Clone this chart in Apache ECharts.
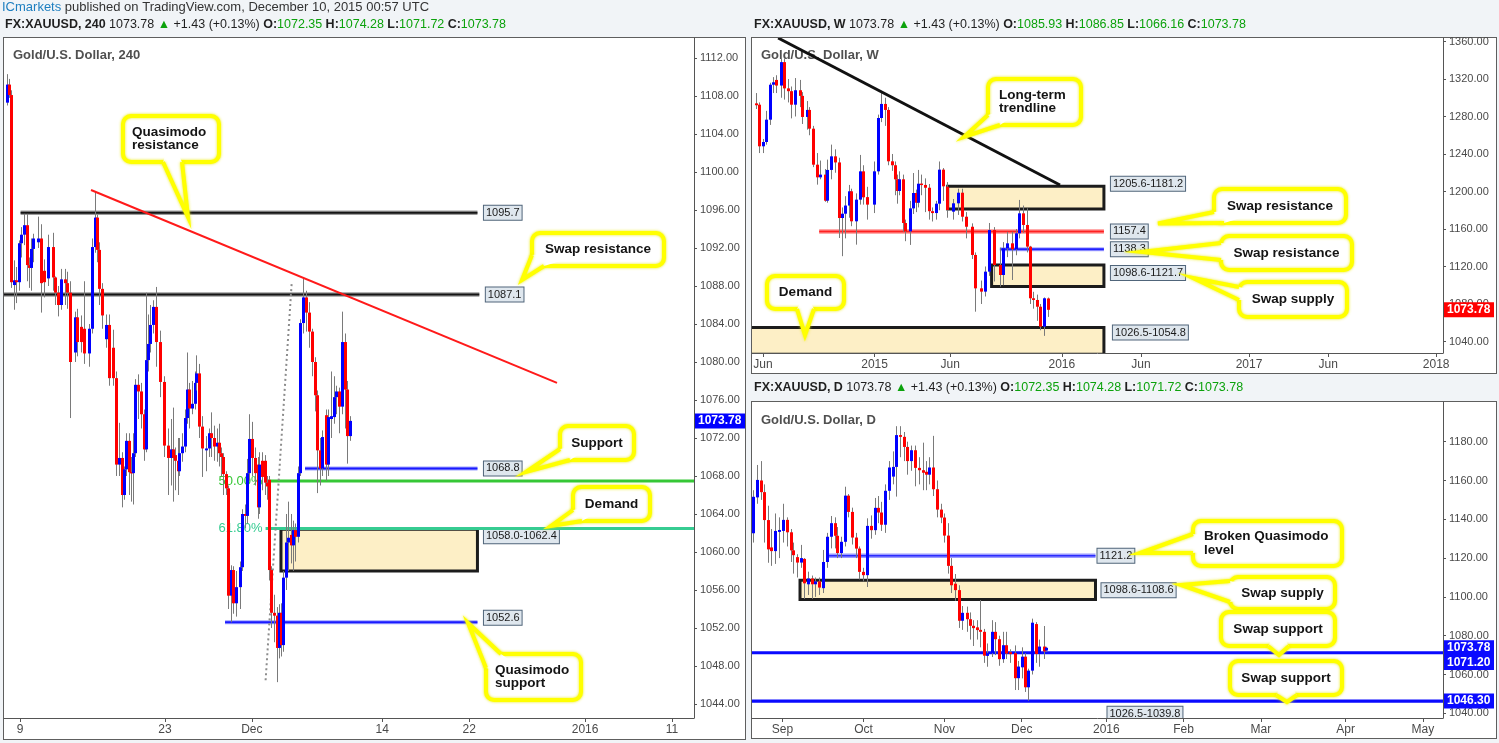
<!DOCTYPE html>
<html><head><meta charset="utf-8">
<script src="https://cdn.jsdelivr.net/npm/echarts@6/dist/echarts.min.js"></script>
<style>
html,body{margin:0;padding:0;background:#f1f4f7;width:1499px;height:743px;overflow:hidden;}
.panel{position:absolute;background:#fff;border:1px solid #5e5e5e;box-sizing:border-box;}
#chart{position:absolute;left:0;top:0;width:1499px;height:743px;}
</style></head><body>
<div class="panel" style="left:3px;top:37px;width:743px;height:703px"></div>
<div class="panel" style="left:751px;top:37px;width:746px;height:337px"></div>
<div class="panel" style="left:751px;top:401px;width:746px;height:338px"></div>
<div id="chart"></div>
<script>
// ================= DATA =================
// 4H panel: x = trading days since Nov 9 2015
var h4XTicks = [0, 10, 16, 25, 31, 39, 45];
var h4XLabels = ['9', '23', 'Dec', '14', '22', '2016', '11'];
var h4YTicks = [1044,1048,1052,1056,1060,1064,1068,1072,1076,1080,1084,1088,1092,1096,1100,1104,1108,1112];
// [x, open, close, low, high]
var h4Candles = [
[-0.88,1107.3,1109.2,1107.0,1110.3],[-0.76,1109.2,1108.1,1107.8,1109.8],[-0.6,1108.1,1088.4,1087.8,1108.6],
[-0.41,1088.1,1088.6,1085.5,1090.7],[-0.26,1088.6,1088.4,1086.2,1090.0],[-0.05,1088.4,1092.5,1087.5,1092.8],
[0.09,1092.5,1093.4,1091.0,1094.2],[0.28,1093.4,1094.4,1092.3,1095.6],[0.46,1094.4,1090.2,1088.5,1095.6],
[0.6,1090.2,1089.9,1087.8,1091.0],[0.78,1089.9,1091.9,1087.5,1093.0],[0.92,1091.9,1093.0,1090.5,1093.5],
[1.24,1092.6,1093.0,1092.0,1095.3],[1.45,1093.0,1088.3,1085.2,1094.5],[1.66,1089.6,1088.4,1086.8,1090.8],
[1.93,1088.8,1092.1,1088.0,1093.4],[2.28,1092.1,1088.9,1087.5,1093.6],[2.42,1088.9,1087.3,1086.0,1089.0],
[2.62,1087.3,1086.0,1084.8,1088.0],[2.81,1086.0,1088.7,1085.5,1089.8],[3.08,1088.7,1088.3,1086.0,1089.8],
[3.26,1088.3,1087.3,1085.6,1089.5],[3.45,1087.3,1080.0,1074.1,1088.5],[3.77,1081.0,1084.7,1080.0,1085.3],
[3.95,1084.7,1082.1,1080.6,1085.6],[4.23,1083.7,1082.1,1081.0,1084.9],[4.42,1083.5,1080.9,1079.8,1088.5],
[4.76,1080.9,1083.5,1079.5,1084.0],[4.97,1083.5,1092.1,1083.0,1093.0],[5.16,1092.1,1095.2,1091.5,1097.9],
[5.29,1095.2,1091.8,1090.5,1095.5],[5.47,1091.8,1087.7,1086.0,1092.6],[5.66,1087.7,1084.9,1083.5,1088.3],
[5.94,1082.4,1083.9,1081.5,1085.0],[6.12,1083.9,1078.3,1077.5,1085.0],[6.42,1081.5,1078.3,1077.5,1083.4],
[6.65,1078.3,1069.2,1068.0,1079.0],[6.83,1069.2,1069.9,1068.0,1073.6],[7.02,1069.9,1066.0,1064.7,1070.5],
[7.18,1066.0,1068.7,1065.5,1069.0],[7.32,1068.7,1071.7,1068.0,1072.5],[7.5,1071.7,1068.4,1066.0,1072.5],
[7.66,1068.4,1068.3,1065.3,1070.0],[7.8,1068.3,1070.4,1065.0,1072.5],[7.97,1070.4,1077.6,1070.0,1078.2],
[8.14,1077.6,1076.9,1074.0,1078.7],[8.33,1076.9,1074.5,1073.0,1077.8],[8.54,1074.5,1070.8,1069.6,1075.0],
[8.7,1070.8,1080.2,1070.5,1087.3],[8.83,1080.2,1081.9,1079.0,1085.0],[8.97,1081.9,1083.9,1081.0,1086.0],
[9.16,1083.9,1085.8,1083.0,1086.5],[9.39,1085.8,1082.1,1079.5,1087.9],[9.68,1082.1,1077.9,1076.3,1083.3],
[9.96,1077.9,1071.2,1070.0,1078.5],[10.19,1071.2,1069.9,1066.0,1073.0],[10.4,1069.9,1070.8,1067.0,1074.0],
[10.54,1070.8,1069.9,1065.3,1075.2],[10.68,1070.2,1069.6,1066.5,1071.0],[10.88,1069.6,1068.5,1066.0,1072.0],
[11.0,1068.5,1070.4,1068.0,1072.0],[11.16,1070.4,1071.1,1069.5,1072.5],[11.39,1071.1,1074.1,1070.5,1075.0],
[11.5,1074.1,1077.1,1073.5,1081.0],[11.68,1077.1,1075.1,1073.0,1077.8],[11.87,1075.1,1075.6,1074.5,1078.0],
[12.06,1075.6,1077.8,1075.0,1079.0],[12.17,1077.8,1078.8,1077.0,1080.7],[12.33,1078.8,1073.2,1072.0,1079.8],
[12.54,1073.2,1070.9,1067.9,1074.3],[12.82,1070.7,1070.9,1068.5,1072.2],[13.02,1070.9,1072.5,1070.0,1073.0],
[13.2,1072.5,1072.0,1070.0,1074.7],[13.39,1072.0,1071.1,1069.6,1073.3],[13.57,1071.1,1071.5,1069.5,1073.0],
[13.71,1071.5,1070.4,1069.0,1073.5],[13.85,1070.4,1070.0,1068.0,1071.0],[14.03,1070.0,1068.2,1066.0,1070.4],
[14.2,1068.2,1066.7,1066.0,1068.5],[14.38,1066.7,1055.4,1054.0,1067.0],[14.58,1055.4,1058.1,1052.6,1058.6],
[14.68,1058.1,1054.6,1053.5,1058.5],[14.93,1054.6,1056.3,1053.2,1058.0],[15.16,1056.3,1058.4,1054.0,1059.0],
[15.34,1058.4,1064.0,1058.0,1064.5],[15.53,1064.0,1063.8,1062.5,1065.0],[15.67,1063.8,1068.3,1063.0,1069.8],
[15.83,1068.3,1071.9,1067.5,1074.5],[16.01,1071.9,1069.9,1068.0,1073.7],[16.22,1069.9,1068.3,1067.0,1071.0],
[16.4,1069.2,1064.7,1063.5,1070.0],[16.52,1064.7,1069.2,1064.0,1070.5],[16.72,1069.6,1067.9,1066.5,1070.5],
[16.91,1069.6,1067.3,1066.0,1070.2],[17.05,1067.3,1066.9,1065.5,1068.0],[17.21,1067.6,1058.1,1057.0,1068.0],
[17.32,1058.1,1053.6,1052.0,1058.5],[17.53,1053.6,1053.3,1050.5,1055.5],[17.71,1053.3,1049.9,1046.3,1054.2],
[17.87,1049.9,1053.6,1048.8,1054.5],[18.01,1053.6,1050.2,1049.0,1054.6],[18.17,1050.2,1057.3,1049.5,1058.0],
[18.33,1057.3,1061.0,1056.0,1064.0],[18.52,1061.0,1061.5,1058.0,1065.3],[18.7,1061.8,1060.7,1058.8,1064.0],
[18.84,1060.7,1062.3,1058.0,1063.3],[19.0,1062.3,1061.6,1059.0,1063.0],[19.19,1061.6,1068.3,1061.0,1069.0],
[19.32,1068.3,1084.1,1068.0,1084.5],[19.55,1084.1,1086.8,1083.0,1088.8],[19.76,1086.8,1085.2,1083.2,1087.5],
[19.97,1085.2,1083.2,1081.5,1086.3],[20.15,1083.2,1080.0,1078.5,1083.5],[20.34,1080.0,1076.5,1074.8,1080.5],
[20.52,1076.5,1070.7,1066.2,1077.0],[20.7,1070.7,1068.8,1067.0,1072.0],[20.84,1068.8,1072.1,1068.0,1072.8],
[21.1,1074.4,1069.2,1067.5,1075.0],[21.28,1069.2,1074.2,1068.0,1075.0],[21.46,1074.0,1074.3,1072.0,1079.0],
[21.65,1074.2,1076.3,1073.5,1078.5],[21.83,1076.3,1076.9,1074.5,1077.5],[22.02,1076.9,1075.3,1072.5,1077.3],
[22.2,1075.3,1082.1,1074.5,1085.3],[22.41,1082.1,1077.1,1073.0,1083.0],[22.59,1077.1,1072.2,1069.3,1078.0],
[22.75,1072.2,1073.8,1071.7,1074.3]
];
var h4BlackLevels = [[1095.7, 0.04, 31.57], [1087.1, -1.2, 31.7]];
var h4BlueLevels = [[1068.8, 19.67, 31.57], [1052.6, 14.15, 31.57]];
var h4Fibs = [[1067.47, 16.95, '50.00%'], [1062.48, 16.95, '61.80%']];
var h4Zone = [1058.0, 1062.4, 18.01, 31.57];
var h4Trend = [[4.9, 1098.1], [37.06, 1077.8]];
var h4FibLine = [[16.95, 1046.5], [18.75, 1088.3]];
var lastPrice = 1073.78;

// Weekly panel: x = weeks since Jun 2 2014
var wXTicks = [0, 31, 52, 83, 105, 135, 157, 187];
var wXLabels = ['Jun', '2015', 'Jun', '2016', 'Jun', '2017', 'Jun', '2018'];
var wYTicks = [1040,1080,1120,1160,1200,1240,1280,1320,1360];
var wCandles = [
[-1.94,1294,1292,1288,1305],[-1.03,1292.6,1248.2,1241,1295],[0.08,1248.2,1252.8,1241,1256],
[0.83,1252.8,1276.6,1250,1286],[2.03,1276.6,1313.9,1271,1316],[2.86,1313.9,1316.5,1305,1322],
[3.7,1319,1313,1305,1324],[5.0,1313,1338,1300,1342],[5.83,1338,1310,1298,1342],
[7.03,1310,1307,1295,1320],[7.78,1307,1292.6,1278,1312],[8.8,1292.6,1308,1280,1321],
[10.19,1308,1302,1290,1319],[10.83,1302,1279.5,1272,1306],[12.14,1279.5,1287,1266,1296.5],
[12.86,1287,1267,1260,1290],[13.97,1267,1228.6,1226,1270],[15.08,1228.6,1215.1,1207.3,1241],
[15.83,1215.1,1218,1213,1233],[17.14,1218,1190.2,1189,1224],[17.86,1190.2,1223,1188,1234],
[18.97,1223,1237.5,1213,1250],[19.92,1237.5,1231,1220,1245],[21.03,1231,1171.7,1150.4,1236],
[21.94,1171.7,1176.3,1131,1183],[22.86,1176.3,1185,1150,1195],[23.97,1185,1200.2,1172,1207],
[24.53,1200.2,1168.2,1163,1203],[25.83,1168.2,1191.3,1143.3,1198],[26.94,1191.3,1221.5,1186,1239],
[27.86,1221.5,1193.8,1186,1228],[28.97,1194,1186,1170,1205],[30.92,1186,1221.5,1177,1232],
[31.94,1221.5,1278.4,1218,1282],[32.78,1278.4,1293.4,1274,1306.8],[33.89,1293.4,1287,1270,1300],
[34.72,1287,1232.2,1228,1290],[35.83,1232.2,1228,1222,1240],[36.58,1228,1213,1196,1232],
[37.14,1213,1200.5,1187,1218],[37.86,1200.5,1213,1196,1221.5],[38.81,1213,1166.4,1157,1218],
[39.53,1166.4,1157.5,1147,1170],[40.92,1157.5,1182,1143,1190],[41.75,1182,1198.4,1176,1219.7],
[42.5,1198.4,1188,1178,1202],[43.06,1188,1208.3,1183,1223],[43.97,1208.3,1207,1196,1218],
[45.08,1207,1204,1178,1214],[46.03,1204,1179,1170,1208],[46.94,1179,1177,1168,1183],
[48.06,1177,1187,1170,1190],[48.97,1187,1223.3,1180,1232],[50.08,1223.3,1205.5,1190,1225],
[51.14,1205.1,1180.3,1172,1210],[52.75,1178.5,1187.4,1170,1192],[54.08,1187.4,1198.7,1175,1203],
[55.28,1198.7,1173.1,1168,1203],[56.47,1173.1,1162.4,1150,1178],[57.92,1162.4,1132.3,1128,1166],
[58.86,1132.3,1096.7,1071.8,1135],[60.58,1096.7,1093.2,1080,1105],[61.78,1093.2,1114.5,1088,1120],
[62.83,1114.5,1158.9,1110,1166.4],[64.17,1158.9,1121.6,1104,1162],[65.78,1121.6,1110.9,1098.5,1140],
[66.56,1110.9,1139.4,1100,1146],[67.89,1139.4,1144.7,1130,1157],[69.22,1144.7,1138.4,1105.6,1157],
[70.28,1138.4,1155.4,1132,1160],[71.08,1155.4,1176.7,1150,1191],[72.14,1176.7,1164.3,1156,1185],
[73.22,1164.3,1141.2,1135,1182],[74.17,1141.2,1086.1,1080,1142],[75.08,1086.1,1084.3,1075,1093],
[76.14,1084.3,1077.1,1062,1090],[76.94,1077.1,1055.8,1052,1080],[78.0,1055.8,1086.1,1046,1087],
[79.06,1085.9,1073.8,1066.2,1086.9]
];
var wTrend = [[4.2, 1363.7], [82.5, 1206.9]];
var wZones = [[1205.6, 1181.2, 51.3, 94.7], [1098.6, 1121.7, 63.5, 94.7], [1026.5, 1054.8, -3.5, 94.7]];
var wRedLevels = [[1157.4, 15.6, 94.7]];
var wBlueLevels = [[1138.3, 65.8, 94.7]];

// Daily panel: x = trading days since Sep 1 2015
var dXTicks = [0, 22, 44, 65, 88, 109, 130, 153, 174];
var dXLabels = ['Sep', 'Oct', 'Nov', 'Dec', '2016', 'Feb', 'Mar', 'Apr', 'May'];
var dYTicks = [1040,1060,1080,1100,1120,1140,1160,1180];
var dCandles = [
[-8.0,1132.8,1151.6,1128,1155],[-6.85,1151.3,1160.3,1148,1168],[-5.9,1160,1154,1150,1170],
[-5.0,1154,1139.6,1128,1158],[-3.9,1139.6,1124.5,1117.6,1147],[-3.0,1125.5,1123.6,1116,1135],
[-2.0,1123.6,1134,1117,1143],[-0.95,1133.5,1134.5,1120,1141],[0.05,1134,1139.7,1128,1148],
[1.1,1139.7,1133.3,1126,1141],[2.2,1133.3,1124,1118,1135],[2.9,1124,1121.5,1112,1128],
[4.0,1120.5,1117.7,1110,1122],[5.1,1117.7,1120,1115,1126.8],[5.8,1119.6,1107,1099,1120],
[6.9,1106.5,1109.5,1101,1113],[8.0,1109.5,1106.5,1099,1111],[8.8,1106.5,1108,1100,1110],
[9.9,1108,1104.8,1101,1110],[11.0,1104.5,1118,1102,1124.2],[12.0,1118,1131,1115,1133],
[13.1,1131,1138,1125,1141.7],[14.2,1138,1131.5,1125,1141],[14.9,1131.5,1122.6,1120,1136],
[16.0,1122.6,1128.4,1120,1131],[17.1,1128.4,1152.2,1126,1156.8],[17.9,1152.2,1143.8,1141,1153],
[19.0,1143.8,1130.6,1127,1146],[20.0,1130.6,1124.9,1120,1133],[20.9,1124.9,1112.9,1109,1126],
[22.0,1112.9,1111.2,1108,1115],[23.0,1111.2,1136.6,1105.1,1140.5],[24.0,1136.6,1134.4,1130,1142],
[25.0,1134.4,1145.9,1132,1151],[26.0,1145.9,1143.5,1138,1152],[26.9,1143.5,1137.2,1134,1149],
[27.9,1137.2,1154.7,1133,1158],[29.0,1154.7,1166.7,1150,1170],[30.1,1162,1167,1158,1175],
[30.9,1167,1183.4,1151.7,1188],[32.0,1183.4,1182.5,1172,1188],[33.0,1182.5,1177.3,1170,1185],
[33.9,1177.3,1170,1163,1180],[35.0,1170,1175.6,1165,1178],[36.0,1175.6,1166.5,1157,1178],
[37.1,1166.5,1165.3,1158,1172],[38.1,1165.3,1164,1155,1179.5],[39.1,1164.5,1163,1155,1170],
[39.9,1163,1166.7,1158,1172],[40.9,1166.7,1155.5,1152,1183],[42.0,1155.5,1145,1141,1160],
[43.0,1145,1140.9,1138,1148],[44.0,1140.9,1131.6,1128,1143],[45.0,1131.6,1116,1112,1138],
[45.8,1116,1106,1102,1120],[46.9,1106.8,1103.5,1098,1111.8],[48.0,1103.5,1087.7,1084,1106],
[48.9,1087.7,1091.8,1083,1095.3],[50.0,1091.8,1088.5,1082,1095],[51.0,1088.5,1085.1,1078,1092],
[51.8,1085.1,1083.9,1074.7,1088],[52.9,1084.3,1082.9,1078,1088],[53.7,1083,1082,1074,1098.4],
[54.7,1082,1069.7,1066,1083.5],[55.7,1069.6,1071,1064,1076],[56.9,1071,1082,1069,1088],
[57.8,1082,1078.2,1070,1087],[58.8,1078.2,1067.9,1064.5,1080],[60.0,1067.9,1075.1,1066,1082],
[60.7,1075.1,1070.8,1068,1082],[61.8,1071.5,1070.5,1066,1073],[63.3,1071,1058.1,1052,1075],
[64.1,1058.1,1064.1,1052,1067],[65.0,1063.7,1069.2,1058,1074],[65.9,1069.2,1053.4,1051,1071],
[66.7,1053.4,1062,1046.5,1063],[67.9,1062,1086.7,1060,1088.8],[69.0,1086,1070.6,1066,1087],
[69.8,1070.6,1074.4,1064,1078],[71.0,1074.4,1071.9,1068,1085],[71.7,1072.35,1073.78,1071.72,1074.28]
];
var dZone = [1098.6, 1108.6, 4.76, 85.05];
var dLightBlue = [[1121.2, 12.6, 85.05]];
var dBlueLevels = [1071.2, 1046.3];
var dLowZone = [1026.5, 1039.8, 85.05];

// ================= RENDERING =================
var FONT = '"Liberation Sans", Arial, sans-serif';
var UP = '#0000ff', DOWN = '#ff0000', WICK = '#7a7a7a';
var X = {h4: [-1.1042, 46.515], w: [-3.056, 188.889], d: [-8.288, 179.48]};
var Y = {h4: [1042.526, 1114.105], w: [1027.73, 1363.73], d: [1037.58, 1200.46]};

function near(arr, v) { for (var i = 0; i < arr.length; i++) if (Math.abs(arr[i] - v) < 1e-6) return i; return -1; }
function xAxisOf(idx, r, ticks, labels) {
  return {type: 'value', gridIndex: idx, min: r[0], max: r[1],
    axisLine: {show: true, onZero: false, lineStyle: {color: '#555', width: 1}},
    axisTick: {show: true, customValues: ticks, length: 4, lineStyle: {color: '#555'}},
    axisLabel: {show: true, customValues: ticks, margin: 6, color: '#4a4a4a', fontSize: 12, fontFamily: FONT,
      formatter: function (v) { var i = near(ticks, v); return i < 0 ? '' : labels[i]; }},
    splitLine: {show: false}};
}
function yAxisOf(idx, r, ticks) {
  return {type: 'value', gridIndex: idx, position: 'right', min: r[0], max: r[1],
    axisLine: {show: true, onZero: false, lineStyle: {color: '#555', width: 1}},
    axisTick: {show: true, customValues: ticks, length: 3, lineStyle: {color: '#555'}},
    axisLabel: {show: true, customValues: ticks, margin: 6, color: '#4a4a4a', fontSize: 11, fontFamily: FONT,
      formatter: function (v) { return v.toFixed(2); }},
    splitLine: {show: false}};
}
function renderCandle(params, api) {
  var x = api.value(0), o = api.value(1), c = api.value(2), l = api.value(3), h = api.value(4);
  var po = api.coord([x, o]), pc = api.coord([x, c]), pl = api.coord([x, l]), ph = api.coord([x, h]);
  var cx = Math.round(po[0]);
  var top = Math.min(po[1], pc[1]), bot = Math.max(po[1], pc[1]);
  if (bot - top < 1.5) { var m = (top + bot) / 2; top = m - 0.75; bot = m + 0.75; }
  return {type: 'group', children: [
    {type: 'line', shape: {x1: cx + 0.5, y1: ph[1], x2: cx + 0.5, y2: pl[1]}, style: {stroke: WICK, lineWidth: 1}},
    {type: 'rect', shape: {x: cx - 1, y: top, width: 3, height: bot - top}, style: {fill: c >= o ? UP : DOWN}}
  ]};
}
function candleSeries(idx, data) {
  return {type: 'custom', xAxisIndex: idx, yAxisIndex: idx, data: data, clip: true, z: 5, silent: true,
    encode: {x: 0, y: [1, 2, 3, 4]}, renderItem: renderCandle};
}
function overlay(idx, z, clip, build) {
  return {type: 'custom', xAxisIndex: idx, yAxisIndex: idx, data: [[0, 0]], clip: clip, z: z, silent: true,
    renderItem: function (params, api) { return {type: 'group', children: build(api)}; }};
}
function seg(api, a, b, color, width, dash) {
  var p = api.coord(a), q = api.coord(b);
  return {type: 'line', shape: {x1: p[0], y1: p[1], x2: q[0], y2: q[1]},
    style: {stroke: color, lineWidth: width, lineDash: dash || null, fill: null}};
}
function level(api, v, x1, x2, halo, hw, core, cw) {
  return [seg(api, [x1, v], [x2, v], halo, hw), seg(api, [x1, v], [x2, v], core, cw)];
}
function zoneRect(api, a, b, x1, x2) {
  var lo = Math.min(a, b), hi = Math.max(a, b);
  var p = api.coord([x1, hi]), q = api.coord([x2, lo]);
  return {type: 'rect', shape: {x: p[0], y: p[1], width: q[0] - p[0], height: q[1] - p[1]},
    style: {fill: '#fdefc6', stroke: '#1c1c1c', lineWidth: 3}};
}
function priceBox(x, y, text) {
  return {type: 'text', style: {text: text, x: x, y: y, align: 'left', verticalAlign: 'middle', fill: '#1a1a1a',
    font: '11px ' + FONT, backgroundColor: '#dfe7ee', borderColor: '#50657a', borderWidth: 1, padding: [2, 2, 1, 2]}};
}
function axisTag(api, xMax, v, text, bg, dy) {
  var p = api.coord([xMax, v]);
  return [{type: 'rect', shape: {x: p[0] + 1, y: p[1] + dy - 7.5, width: 50, height: 15}, style: {fill: bg}},
    {type: 'text', style: {text: text, x: p[0] + 4, y: p[1] + dy, align: 'left', verticalAlign: 'middle', fill: '#fff', font: 'bold 12px ' + FONT}}];
}

// ---- 4H overlays
function h4Bottom(api) {
  var els = [];
  els.push(zoneRect(api, h4Zone[0], h4Zone[1], h4Zone[2], h4Zone[3]));
  var zp = api.coord([h4Zone[3], h4Zone[1]]);
  els.push(priceBox(zp[0] + 6.5, zp[1] + 7, h4Zone[0].toFixed(1) + '-' + h4Zone[1].toFixed(1)));
  var fibCols = ['#36c736', '#36cc92'];
  h4Fibs.forEach(function (f, i) {
    els.push(seg(api, [f[1], f[0]], [X.h4[1], f[0]], fibCols[i], 3));
    var p = api.coord([f[1], f[0]]);
    els.push({type: 'text', style: {text: f[2], x: p[0] - 3, y: p[1], align: 'right', verticalAlign: 'middle', fill: fibCols[i], font: '13px ' + FONT}});
  });
  h4BlackLevels.forEach(function (l) {
    els = els.concat(level(api, l[0], l[1], l[2], '#9c9c9c', 4.5, '#151515', 2));
    var p = api.coord([l[2], l[0]]);
    els.push(priceBox(p[0] + 6.5, p[1], l[0].toFixed(1)));
  });
  var blueDy = [0, -4.5];
  h4BlueLevels.forEach(function (l, i) {
    els = els.concat(level(api, l[0], l[1], l[2], '#9ea3ff', 4, '#1a1aff', 2));
    var p = api.coord([l[2], l[0]]);
    els.push(priceBox(p[0] + 6.5, p[1] + blueDy[i], l[0].toFixed(1)));
  });
  els.push(seg(api, h4FibLine[0], h4FibLine[1], '#8c8c8c', 2, [2, 3]));
  return els;
}
function h4Top(api) { return [seg(api, h4Trend[0], h4Trend[1], '#ff1a1a', 2)]; }
function h4Tags(api) { return axisTag(api, X.h4[1], lastPrice, lastPrice.toFixed(2), '#0000ff', 0); }

// ---- Weekly overlays
function wBottom(api) {
  var els = [];
  var zdx = [7, 7, 9], zdy = [-2.5, 8, 5];
  wZones.forEach(function (z, i) {
    els.push(zoneRect(api, z[0], z[1], z[2], z[3]));
    var p = api.coord([z[3], Math.max(z[0], z[1])]);
    els.push(priceBox(p[0] + zdx[i], p[1] + zdy[i], z[0].toFixed(1) + '-' + z[1].toFixed(1)));
  });
  wRedLevels.forEach(function (l) {
    els = els.concat(level(api, l[0], l[1], l[2], '#ffabab', 5, '#ff2020', 2));
    var p = api.coord([l[2], l[0]]);
    els.push(priceBox(p[0] + 7, p[1], l[0].toFixed(1)));
  });
  wBlueLevels.forEach(function (l) {
    els = els.concat(level(api, l[0], l[1], l[2], '#aaaaff', 4, '#2020ff', 2));
    var p = api.coord([l[2], l[0]]);
    els.push(priceBox(p[0] + 7, p[1], l[0].toFixed(1)));
  });
  return els;
}
function wTop(api) { return [seg(api, wTrend[0], wTrend[1], '#111', 3)]; }
function wTags(api) { return axisTag(api, X.w[1], lastPrice, lastPrice.toFixed(2), '#ff0000', 0); }

// ---- Daily overlays
function dBottom(api) {
  var els = [];
  els.push(zoneRect(api, dZone[0], dZone[1], dZone[2], dZone[3]));
  var p = api.coord([dZone[3], dZone[1]]);
  els.push(priceBox(p[0] + 6, p[1] + 10, dZone[0].toFixed(1) + '-' + dZone[1].toFixed(1)));
  dLightBlue.forEach(function (l) {
    els = els.concat(level(api, l[0], l[1], l[2], '#9a9aff', 4.5, '#2b2bff', 1.5));
    var q = api.coord([l[2], l[0]]);
    els.push(priceBox(q[0] + 2, q[1], l[0].toFixed(1)));
  });
  dBlueLevels.forEach(function (v) { els.push(seg(api, [X.d[0], v], [X.d[1], v], '#0a0aff', 3.2)); });
  var lz = api.coord([dLowZone[2], dLowZone[1]]);
  els.push(priceBox(lz[0] + 12, lz[1], dLowZone[0].toFixed(1) + '-' + dLowZone[1].toFixed(1)));
  return els;
}
function dTags(api) {
  return axisTag(api, X.d[1], lastPrice, lastPrice.toFixed(2), '#0a0aff', 0)
    .concat(axisTag(api, X.d[1], dBlueLevels[0], dBlueLevels[0].toFixed(2), '#0a0aff', 9.7))
    .concat(axisTag(api, X.d[1], dBlueLevels[1], dBlueLevels[1].toFixed(2), '#0a0aff', 0));
}

// ---- callouts (annotation layout in pixels)
var callouts = [
  {box: [123, 116, 96, 46], b1: [163, 162], tip: [188, 217], b2: [182, 162], text: 'Quasimodo\nresistance', align: 'left', tx: 132},
  {box: [532, 233, 132, 33], b1: [532, 255], tip: [522, 280], b2: [544, 266], text: 'Swap resistance', align: 'center'},
  {box: [560, 426, 74, 34], b1: [560, 449], tip: [526, 472], b2: [570, 460], text: 'Support', align: 'center'},
  {box: [573, 487, 77, 34], b1: [573, 510], tip: [551, 526], b2: [582, 521], text: 'Demand', align: 'center'},
  {box: [486, 654, 95, 46], b1: [486, 668], tip: [468, 623], b2: [501, 654], text: 'Quasimodo\nsupport', align: 'left', tx: 495},
  {box: [988, 79, 93, 46], b1: [988, 115], tip: [964, 137], b2: [1000, 125], text: 'Long-term\ntrendline', align: 'left', tx: 999},
  {box: [1214, 189, 132, 34], b1: [1214, 212], tip: [1158, 223.5], b2: [1224, 223], text: 'Swap resistance', align: 'center'},
  {box: [1221, 236, 131, 34], b1: [1221, 243], tip: [1142, 252], b2: [1221, 260], text: 'Swap resistance', align: 'center'},
  {box: [1239, 282, 108, 35], b1: [1239, 287], tip: [1193, 278], b2: [1239, 300], text: 'Swap supply', align: 'center'},
  {box: [767, 276, 77, 33], b1: [797, 309], tip: [805, 335], b2: [814, 309], text: 'Demand', align: 'center'},
  {box: [1193, 521, 149, 45], b1: [1193, 534], tip: [1140, 553], b2: [1193, 553], text: 'Broken Quasimodo\nlevel', align: 'left', tx: 1204},
  {box: [1230, 577, 105, 32], b1: [1230, 581], tip: [1181, 585], b2: [1230, 602], text: 'Swap supply', align: 'center'},
  {box: [1221, 612, 114, 34], b1: [1268, 646], tip: [1279, 655], b2: [1289, 646], text: 'Swap support', align: 'center'},
  {box: [1230, 661, 112, 34], b1: [1276, 695], tip: [1287, 702], b2: [1297, 695], text: 'Swap support', align: 'center'}
];
function calloutEls(c) {
  var bx = c.box[0], by = c.box[1], bw = c.box[2], bh = c.box[3];
  var ctr = [bx + bw / 2, by + bh / 2];
  var glow = 'rgba(235,235,0,0.9)';
  var tx = c.align === 'left' ? c.tx : bx + bw / 2;
  return [
    {type: 'rect', z: 20, shape: {x: bx, y: by, width: bw, height: bh, r: 8},
      style: {fill: '#ffffff', stroke: '#ffff00', lineWidth: 4, shadowBlur: 3, shadowColor: glow}},
    {type: 'polygon', z: 21, shape: {points: [c.b1, c.tip, c.b2, ctr]}, style: {fill: '#ffffff'}},
    {type: 'polyline', z: 22, shape: {points: [c.b1, c.tip, c.b2]},
      style: {stroke: '#ffff00', lineWidth: 4, fill: null, shadowBlur: 3, shadowColor: glow}},
    {type: 'text', z: 23, style: {text: c.text, x: tx, y: by + bh / 2, align: c.align, textAlign: c.align,
      verticalAlign: 'middle', textVerticalAlign: 'middle', lineHeight: 13.5, font: 'bold 13.5px ' + FONT, fill: '#141414'}}
  ];
}
function header(x, y, tf, o, h, l, c) {
  return {type: 'text', z: 1, style: {x: x, y: y, verticalAlign: 'middle', textVerticalAlign: 'middle',
    text: '{b|FX:XAUUSD, ' + tf + '} {n|1073.78 }{g|\u25B2}{n| +1.43 (+0.13%) }{b|O:}{g|' + o + '} {b|H:}{g|' + h + '} {b|L:}{g|' + l + '} {b|C:}{g|' + c + '}',
    rich: {b: {fill: '#1f1f1f', color: '#1f1f1f', font: 'bold 12.5px ' + FONT},
           n: {fill: '#1f1f1f', color: '#1f1f1f', font: '12.5px ' + FONT},
           g: {fill: '#0ca20c', color: '#0ca20c', font: '12.5px ' + FONT}}}};
}
function title(x, y, t) {
  return {type: 'text', z: 1, style: {x: x, y: y, text: t, verticalAlign: 'middle', textVerticalAlign: 'middle', fill: '#505050', font: 'bold 13px ' + FONT}};
}
var graphics = [
  {type: 'text', z: 1, style: {x: 2, y: 7, verticalAlign: 'middle', textVerticalAlign: 'middle',
    text: '{a|ICmarkets}{b| published on TradingView.com, December 10, 2015 00:57 UTC}',
    rich: {a: {fill: '#1e7fc0', color: '#1e7fc0', font: '13px ' + FONT}, b: {fill: '#333', color: '#333', font: '13px ' + FONT}}}},
  header(5, 25, '240', '1072.35', '1074.28', '1071.72', '1073.78'),
  header(754, 25, 'W', '1085.93', '1086.85', '1066.16', '1073.78'),
  header(754, 388, 'D', '1072.35', '1074.28', '1071.72', '1073.78'),
  title(13, 55, 'Gold/U.S. Dollar, 240'),
  title(761, 55, 'Gold/U.S. Dollar, W'),
  title(761, 420, 'Gold/U.S. Dollar, D')
];
callouts.forEach(function (c) { graphics = graphics.concat(calloutEls(c)); });

var chart = echarts.init(document.getElementById('chart'), null, {renderer: 'canvas'});
chart.setOption({
  animation: false,
  backgroundColor: 'transparent',
  grid: [
    {left: 4, top: 38, width: 690, height: 680},
    {left: 752, top: 38, width: 691, height: 315},
    {left: 752, top: 402, width: 691, height: 316}
  ],
  xAxis: [xAxisOf(0, X.h4, h4XTicks, h4XLabels), xAxisOf(1, X.w, wXTicks, wXLabels), xAxisOf(2, X.d, dXTicks, dXLabels)],
  yAxis: [yAxisOf(0, Y.h4, h4YTicks), yAxisOf(1, Y.w, wYTicks), yAxisOf(2, Y.d, dYTicks)],
  series: [
    overlay(0, 2, true, h4Bottom), candleSeries(0, h4Candles), overlay(0, 6, true, h4Top), overlay(0, 7, false, h4Tags),
    overlay(1, 2, true, wBottom), candleSeries(1, wCandles), overlay(1, 6, true, wTop), overlay(1, 7, false, wTags),
    overlay(2, 2, true, dBottom), candleSeries(2, dCandles), overlay(2, 7, false, dTags)
  ],
  graphic: {elements: graphics}
});
</script></body></html>
